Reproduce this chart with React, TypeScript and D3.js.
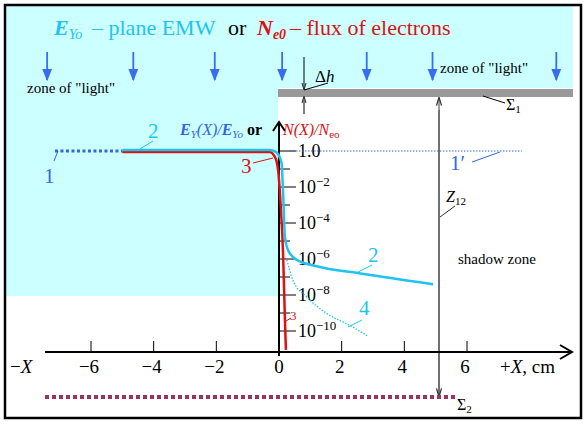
import React from 'react';
import * as d3 from 'd3';

// x in cm, y as log10 of the ratio
const xTicks = [-6, -4, -2, 0, 2, 4, 6];
const xTickLabels = ['\u22126', '\u22124', '\u22122', '0', '2', '4', '6'];
const yDecades = [0, -1, -2, -3, -4, -5, -6, -7, -8, -9, -10];
const yLabelDecades = [0, -2, -4, -6, -8, -10];

const curve1Left = [[-7.15, 0], [-5.0, 0]];
const curve1Right = [[0.35, 0], [7.75, 0]];
const curve2 = [
  [-5.0, 0.05], [-0.3, 0.05], [-0.1, -0.05], [0.08, -0.65], [0.13, -2.3],
  [0.19, -4.8], [0.3, -5.55], [0.57, -6.05], [1.2, -6.4], [2.6, -6.8], [4.92, -7.4],
];
const curve3 = [
  [-5.0, -0.05], [-0.3, -0.05], [-0.13, -0.33], [-0.03, -1.05], [0.05, -2.9],
  [0.13, -5.7], [0.19, -9.4], [0.22, -11.05],
];
const curve4 = [
  [0.25, -6.05], [0.45, -7.2], [0.88, -8.1], [1.5, -9.0], [2.27, -9.7], [2.85, -10.3],
];
const lightArrowsX = [-7.4, -4.65, -2.05, 0.1, 2.8, 4.9, 8.85];

const CYAN = '#1ec3f0';
const BLUE = '#3366dd';
const RED = '#dd1111';
const BG = '#ccffff';

export default function App() {
  const x = d3.scaleLinear().domain([-6, 6]).range([91, 467]);
  const y = d3.scaleLinear().domain([0, -10]).range([151, 331]);
  const line = d3.line<number[]>().x(d => x(d[0])).y(d => y(d[1]));
  const smooth = d3.line<number[]>().x(d => x(d[0])).y(d => y(d[1])).curve(d3.curveMonotoneX);

  const x0 = x(0);
  const axisY = 352;
  const serif = '"Liberation Serif", "Times New Roman", serif';

  return (
    <svg width={588} height={425} style={{ position: 'absolute', left: 0, top: 0 }} fontFamily={serif}>
      <defs>
        <marker id="blueArr" viewBox="0 0 10 10" refX="9" refY="5" markerWidth="7" markerHeight="7" orient="auto">
          <path d="M0,1 L10,5 L0,9 z" fill="#3a6cf0" />
        </marker>
        <marker id="blkArr" viewBox="0 0 10 10" refX="9" refY="5" markerWidth="7" markerHeight="7" orient="auto">
          <path d="M0,2 L10,5 L0,8" fill="none" stroke="#333" strokeWidth="1.5" />
        </marker>
      </defs>
      <rect x={0} y={0} width={588} height={425} fill="#fff" />
      {/* light zone */}
      <path d={`M5,5 H573 V88 H${x0 - 1} V296 H5 Z`} fill={BG} />
      <rect x={x0 - 1} y={89} width={573 - x0 + 1} height={8} fill="#999" />
      <rect x={5} y={5} width={576} height={413} fill="none" stroke="#000" strokeWidth={2.5} />

      {/* title */}
      <text x={54} y={35} fontSize={22} fill={CYAN}>
        <tspan fontWeight="bold" fontStyle="italic">E</tspan>
        <tspan fontStyle="italic" fontSize={14} dy={4}>Yo</tspan>
      </text>
      <text x={92} y={35} fontSize={22} fill={CYAN}>{'\u2013'} plane EMW</text>
      <text x={228} y={35} fontSize={22} fill="#000">or</text>
      <text x={257} y={35} fontSize={22} fill={RED}>
        <tspan fontWeight="bold" fontStyle="italic">N</tspan>
        <tspan fontWeight="bold" fontStyle="italic" fontSize={14} dy={4}>e0</tspan>
      </text>
      <text x={290} y={35} fontSize={22} fill={RED}>{'\u2013'} flux of electrons</text>

      {/* light arrows */}
      {lightArrowsX.map((v, i) => (
        <line key={i} x1={x(v)} x2={x(v)} y1={52} y2={80} stroke="#3a6cf0" strokeWidth={1.8} markerEnd="url(#blueArr)" />
      ))}
      <text x={27} y={93} fontSize={15}>zone of "light"</text>
      <text x={440} y={73} fontSize={15}>zone of "light"</text>

      {/* delta h */}
      <line x1={304} x2={304} y1={57} y2={89} stroke="#000" strokeWidth={1} markerEnd="url(#blkArr)" />
      <line x1={304} x2={304} y1={114} y2={97} stroke="#000" strokeWidth={1} markerEnd="url(#blkArr)" />
      <line x1={304} x2={328} y1={90} y2={83} stroke="#000" strokeWidth={1} />
      <text x={315} y={82} fontSize={17}>{'\u0394'}<tspan fontStyle="italic">h</tspan></text>

      {/* Sigma1 */}
      <line x1={483} x2={505} y1={96} y2={103} stroke="#000" strokeWidth={1} />
      <text x={506} y={110} fontSize={16}>{'\u03A3'}<tspan fontSize={11} dy={3}>1</tspan></text>

      {/* Z12 */}
      <line x1={439} x2={439} y1={394} y2={98} stroke="#555" strokeWidth={1.2} markerEnd="url(#blkArr)" />
      <line x1={439} x2={439} y1={110} y2={396} stroke="#555" strokeWidth={1.2} markerEnd="url(#blkArr)" />
      <line x1={440} x2={455} y1={217} y2={206} stroke="#333" strokeWidth={1} />
      <text x={446} y={202} fontSize={16} fontStyle="italic">Z<tspan fontStyle="normal" fontSize={11} dy={3}>12</tspan></text>
      <text x={458} y={264} fontSize={15}>shadow zone</text>

      {/* Sigma2 */}
      <line x1={45} x2={455} y1={397} y2={397} stroke="#993366" strokeWidth={4} strokeDasharray="4 3" />
      <text x={457} y={410} fontSize={16}>{'\u03A3'}<tspan fontSize={11} dy={3}>2</tspan></text>

      {/* x axis */}
      <line x1={45} x2={572} y1={axisY} y2={axisY} stroke="#000" strokeWidth={2} />
      <path d={`M560,345 L572,${axisY} L560,359`} fill="none" stroke="#000" strokeWidth={2} />
      {xTicks.filter(t => t !== 0).map(t => (
        <line key={t} x1={x(t)} x2={x(t)} y1={341} y2={axisY} stroke="#000" strokeWidth={1} />
      ))}
      {xTicks.map((t, i) => (
        <text key={t} x={x(t) + (t === 0 ? 0 : -2)} y={373} fontSize={19} textAnchor="middle">{xTickLabels[i]}</text>
      ))}
      <text x={10} y={373} fontSize={19}>{'\u2212'}<tspan fontStyle="italic">X</tspan></text>
      <text x={500} y={373} fontSize={19}>+<tspan fontStyle="italic">X</tspan>, cm</text>

      {/* y axis */}
      <line x1={x0} x2={x0} y1={356} y2={123} stroke="#000" strokeWidth={2} />
      <path d={`M${x0 - 6},131 L${x0},122 L${x0 + 6},131`} fill="none" stroke="#000" strokeWidth={2} />
      {yDecades.map(d => (
        <line key={d} x1={x0} x2={x0 + (d % 2 === 0 ? 17 : 11)} y1={y(d)} y2={y(d)} stroke="#000" strokeWidth={1} />
      ))}
      {yLabelDecades.map(d => (
        d === 0
          ? <text key={d} x={298} y={y(d) + 6} fontSize={18}>1.0</text>
          : <text key={d} x={298} y={y(d) + 6} fontSize={18}>10<tspan fontSize={13} dy={-7}>{'\u2212' + (-d)}</tspan></text>
      ))}
      <text x={180} y={135} fontSize={16}>
        <tspan fill={BLUE} fontWeight="bold" fontStyle="italic">E</tspan>
        <tspan fill={BLUE} fontStyle="italic" fontSize={11} dy={3}>Y</tspan>
        <tspan fill={BLUE} fontStyle="italic" dy={-3}>(X)/</tspan>
        <tspan fill={BLUE} fontWeight="bold" fontStyle="italic">E</tspan>
        <tspan fill={BLUE} fontStyle="italic" fontSize={11} dy={3}>Yo</tspan>
        <tspan fill="#000" fontWeight="bold" dy={-3} dx={4}>or</tspan>
      </text>
      <text x={283} y={135} fontSize={16} fill={RED} fontStyle="italic">
        N(X)/N<tspan fontStyle="normal" fontSize={11} dy={3}>eo</tspan>
      </text>

      {/* curves */}
      <path d={line(curve1Left) || ''} stroke={BLUE} strokeWidth={3} strokeDasharray="3 2.5" fill="none" />
      <path d={line(curve1Right) || ''} stroke={BLUE} strokeWidth={1.2} strokeDasharray="1.5 1.5" fill="none" />
      <path d={smooth(curve3) || ''} stroke={RED} strokeWidth={2.5} fill="none" />
      <path d={smooth(curve2) || ''} stroke={CYAN} strokeWidth={2.5} fill="none" />
      <path d={smooth(curve4) || ''} stroke={CYAN} strokeWidth={1.3} strokeDasharray="1.5 1.5" fill="none" />

      {/* curve labels */}
      <line x1={54} x2={58} y1={161} y2={151} stroke={BLUE} strokeWidth={1} />
      <text x={44} y={183} fontSize={21} fill={BLUE}>1</text>
      <line x1={140} x2={153} y1={149} y2={141} stroke={CYAN} strokeWidth={1} />
      <text x={148} y={138} fontSize={21} fill={CYAN}>2</text>
      <line x1={253} x2={273} y1={163} y2={158} stroke={RED} strokeWidth={1} />
      <text x={241} y={173} fontSize={21} fill={RED}>3</text>
      <line x1={472} x2={500} y1={162} y2={152} stroke={BLUE} strokeWidth={1} />
      <text x={450} y={170} fontSize={21} fill={BLUE}>1{'\u2032'}</text>
      <line x1={358} x2={372} y1={272} y2={265} stroke={CYAN} strokeWidth={1} />
      <text x={368} y={262} fontSize={21} fill={CYAN}>2</text>
      <line x1={348} x2={362} y1={327} y2={320} stroke={CYAN} strokeWidth={1} />
      <text x={359} y={315} fontSize={21} fill={CYAN}>4</text>
      <line x1={286} x2={291} y1={321} y2={318} stroke={RED} strokeWidth={1} />
      <text x={290} y={320} fontSize={13} fill={RED}>3</text>
    </svg>
  );
}
